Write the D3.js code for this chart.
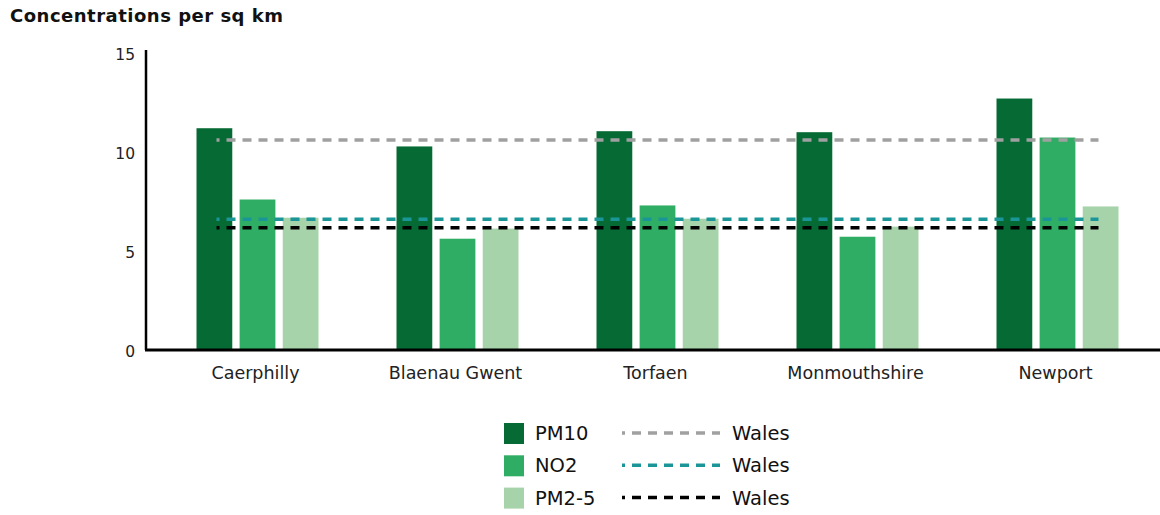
<!DOCTYPE html>
<html><head><meta charset="utf-8">
<script src="https://cdn.jsdelivr.net/npm/d3@7"></script>
<style>body{margin:0;background:#fff;} text{font-family:"DejaVu Sans",sans-serif;}</style>
</head><body><svg id="c" width="1160" height="515"></svg>
<script>
const categories = ["Caerphilly","Blaenau Gwent","Torfaen","Monmouthshire","Newport"];
const seriesNames = ["PM10","NO2","PM2-5"];
const pm10 = [11.15, 10.23, 11.0, 10.95, 12.65];
const no2 = [7.55, 5.57, 7.25, 5.67, 10.68];
const pm25 = [6.63, 6.08, 6.58, 6.18, 7.2];
const walesValues = [10.55, 6.55, 6.12];
const walesLabel = "Wales";
const yTicks = [0,5,10,15];
const colors = ["#066a35","#30ad64","#a6d3aa"];
const walesColors = ["#a0a0a0","#1a9698","#000000"];

const svg = d3.select("#c");
const seriesData = [pm10, no2, pm25];
const y = d3.scaleLinear().domain([0,15]).range([349,52]);
const x0 = d3.scaleBand().domain(categories).range([157.5,1157.5]).padding(0);
const x1 = d3.scaleBand().domain(seriesNames).range([-61,61]).paddingInner(0.17);

svg.append("text").attr("x",10).attr("y",22).attr("font-size",18).attr("font-weight",600)
  .attr("textLength",273).attr("lengthAdjust","spacing").attr("fill","#111").text("Concentrations per sq km");

// y tick labels
svg.selectAll(".yt").data(yTicks).join("text").attr("class","yt")
  .attr("x",135).attr("y",d=>y(d)+8).attr("text-anchor","end").attr("font-size",15.5).attr("fill","#222").text(d=>d);

// bars
categories.forEach((c,i)=>{
  seriesNames.forEach((s,j)=>{
    svg.append("rect").attr("x",x0(c)+x0.bandwidth()/2+x1(s)).attr("y",y(seriesData[j][i]))
      .attr("width",x1.bandwidth()).attr("height",y(0)-y(seriesData[j][i])).attr("fill",colors[j]);
  });
});

// Wales lines
const lineStart = x0(categories[0])+x0.bandwidth()/2-41;
const lineEnd = x0(categories[categories.length-1])+x0.bandwidth()/2+41;
walesValues.forEach((v,k)=>{
  svg.append("line").attr("x1",lineStart).attr("x2",lineEnd).attr("y1",y(v)).attr("y2",y(v))
    .attr("stroke",walesColors[k]).attr("stroke-width",3.5).attr("stroke-dasharray","9 7").attr("stroke-dashoffset",6);
});

// axes
svg.append("line").attr("x1",146).attr("x2",146).attr("y1",50).attr("y2",y(0)+1).attr("stroke","#000").attr("stroke-width",2.5);
svg.append("line").attr("x1",145).attr("x2",1160).attr("y1",y(0)+1).attr("y2",y(0)+1).attr("stroke","#000").attr("stroke-width",3);

// category labels
svg.selectAll(".cl").data(categories).join("text").attr("class","cl")
  .attr("x",d=>x0(d)+x0.bandwidth()/2-2).attr("y",379).attr("text-anchor","middle").attr("font-size",17.5).attr("fill","#222").text(d=>d);

// legend
seriesNames.forEach((s,j)=>{
  const cy = 433 + j*32.3;
  svg.append("rect").attr("x",504).attr("y",cy-10).attr("width",20).attr("height",21).attr("fill",colors[j]);
  svg.append("text").attr("x",535).attr("y",cy+7).attr("font-size",19.5).attr("fill","#111").text(s);
  svg.append("line").attr("x1",622).attr("x2",720).attr("y1",cy).attr("y2",cy)
    .attr("stroke",walesColors[j]).attr("stroke-width",3.5).attr("stroke-dasharray","9 7").attr("stroke-dashoffset",6);
  svg.append("text").attr("x",732).attr("y",cy+7).attr("font-size",19.5).attr("fill","#111").text(walesLabel);
});
</script></body></html>
